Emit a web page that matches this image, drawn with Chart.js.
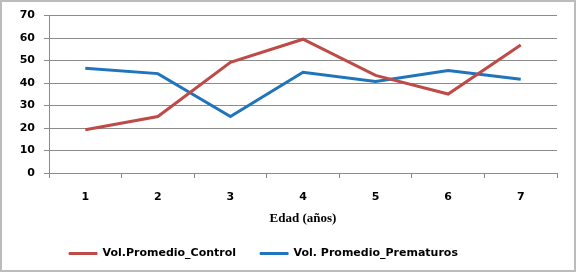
<!DOCTYPE html>
<html>
<head>
<meta charset="utf-8">
<script src="https://cdn.jsdelivr.net/npm/chart.js@4"></script>
<style>
  html, body { margin: 0; padding: 0; background: #fff; }
  #wrap { width: 577px; height: 272px; position: relative; }
</style>
</head>
<body>
<div id="wrap"><canvas id="chart"></canvas></div>
<script>
// Chart data
const edades = ["1", "2", "3", "4", "5", "6", "7"];
const volControl = [19.2, 25.1, 49.2, 59.5, 43.4, 35.1, 56.9];
const volPrematuros = [46.6, 44.2, 25.1, 44.8, 40.7, 45.6, 41.7];
const yTicks = [0, 10, 20, 30, 40, 50, 60, 70];

const gridColor = "#8c8c8c";
const tickFont = { family: "DejaVu Sans", size: 11, weight: "bold" };

// white background + grey frame like the Excel chart
const framePlugin = {
    id: "frame",
    beforeDraw(chart) {
        let ctx = chart.ctx;
        ctx.save();
        ctx.fillStyle = "#ffffff";
        ctx.fillRect(0, 0, chart.width, chart.height);
        ctx.restore();
    },
    afterLayout(chart) {
        // excel centres the legend a bit left of the canvas middle
        chart.legend.left -= 15;
        chart.legend.right -= 15;
    },
    afterDraw(chart) {
        let ctx = chart.ctx;
        ctx.save();
        ctx.strokeStyle = "#bcbcbc";
        ctx.lineWidth = 2;
        ctx.strokeRect(1, 1, chart.width - 3, chart.height - 2);
        ctx.restore();
    }
};

let ctx = document.getElementById("chart").getContext("2d");
new Chart(ctx, {
    type: "line",
    data: {
        labels: edades,
        datasets: [{
            label: "Vol.Promedio_Control",
            data: volControl,
            borderColor: "#be4b48",
            backgroundColor: "#be4b48",
            borderWidth: 3,
            pointRadius: 0,
            tension: 0
        }, {
            label: "Vol. Promedio_Prematuros",
            data: volPrematuros,
            borderColor: "#1f74bb",
            backgroundColor: "#1f74bb",
            borderWidth: 3,
            pointRadius: 0,
            tension: 0
        }]
    },
    options: {
        responsive: true,
        maintainAspectRatio: false,
        animation: false,
        layout: { padding: { left: 0, right: 20, top: 14, bottom: 3 } },
        plugins: {
            tooltip: { enabled: false },
            legend: {
                position: "bottom",
                labels: {
                    font: tickFont,
                    color: "#000",
                    boxWidth: 28,
                    boxHeight: 2,
                    padding: 24,
                    generateLabels(chart) {
                        return Chart.defaults.plugins.legend.labels.generateLabels(chart)
                            .map(item => Object.assign(item, { lineWidth: 1 }));
                    }
                }
            }
        },
        scales: {
            x: {
                offset: true,
                afterFit(scale) { scale.height = 51; },
                grid: {
                    offset: true,
                    drawOnChartArea: false,
                    drawTicks: true,
                    tickLength: 5,
                    color: gridColor
                },
                border: { color: gridColor },
                ticks: { font: tickFont, color: "#000", padding: 13, maxRotation: 0 },
                title: {
                    display: true,
                    text: "Edad (años)",
                    font: { family: "Liberation Serif", size: 13, weight: "bold" },
                    color: "#000",
                    padding: { top: 0, bottom: -2 }
                }
            },
            y: {
                min: 0,
                max: 70,
                afterFit(scale) { scale.width = 49; },
                afterBuildTicks(scale) { scale.ticks = yTicks.map(v => ({ value: v })); },
                grid: { color: gridColor, tickLength: 5 },
                border: { color: gridColor },
                ticks: { font: tickFont, color: "#000", padding: 9 }
            }
        }
    },
    plugins: [framePlugin]
});
</script>
</body>
</html>
